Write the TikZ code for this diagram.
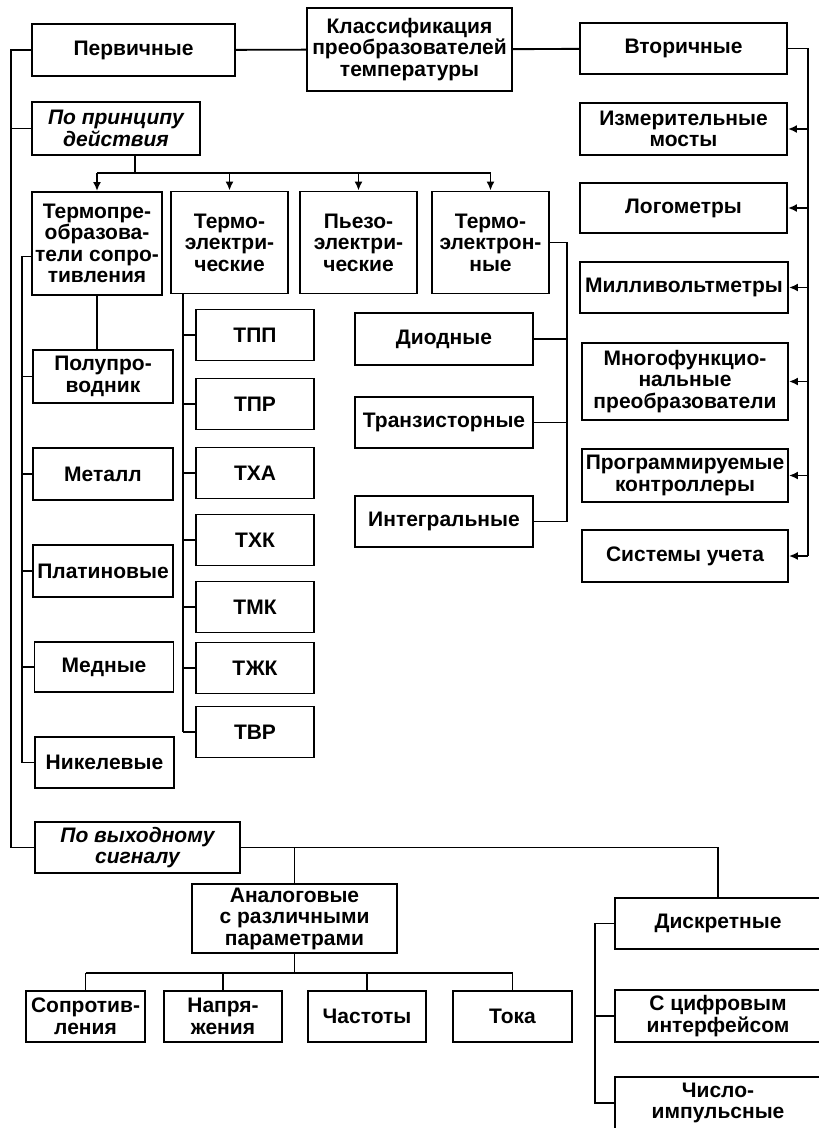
\documentclass[tikz,border=0pt]{standalone}
\usepackage{fontspec}
\setmainfont{Liberation Sans}
\usetikzlibrary{arrows.meta}
\begin{document}
\begin{tikzpicture}[>={Latex[length=9pt,width=8pt]}, x=1pt, y=-1pt, line width=1.9pt,
  box/.style={draw, align=center, inner sep=1pt, font=\fontsize{21}{21.5}\selectfont\bfseries},
  ibox/.style={box, font=\fontsize{21}{21.5}\selectfont\bfseries\itshape},
  wh/.style 2 args={minimum width=#1, minimum height=#2}]
\useasboundingbox (0,0) rectangle (819,1128);
\clip (0,0) rectangle (819,1128);
% top row
\node[box, wh={205}{83}] (class) at (409.5,49.5) {Классификация\\преобразователей\\температуры};
\node[box, wh={203}{52}] (perv) at (133.5,50) {Первичные};
\node[box, wh={207}{51}] (vtor) at (683.5,48.5) {Вторичные};
\draw (perv) -- (class) -- (vtor);
% primary
\node[ibox, wh={168}{53}] (princ) at (116,128.5) {По принципу\\действия};
\node[box, wh={130}{103}] (tsopr) at (97,243.5) {Термопре-\\образова-\\тели сопро-\\тивления};
\node[box, wh={117}{102}] (telec) at (229.5,242.5) {Термо-\\электри-\\ческие};
\node[box, wh={117}{102}] (piezo) at (358.5,242.5) {Пьезо-\\электри-\\ческие};
\node[box, wh={117}{102}] (telectron) at (490.5,242.5) {Термо-\\электрон-\\ные};
\coordinate (L) at (11,0);
\coordinate (pb) at (135,173);
\draw (perv.west) -- (perv.west -| L) |- (princ.west);
\draw (princ.south -| pb) -- (pb);
\draw (tsopr.north |- pb) -- (telectron.north |- pb);
\foreach \n in {tsopr,telec,piezo,telectron}
{
    \draw[->] (\n.north |- pb) -- (\n.north);
}
% resistance thermometers
\node[box, wh={140}{53}] (polu) at (103,376.5) {Полупро-\\водник};
\node[box, wh={140}{52}] (metal) at (103,474) {Металл};
\node[box, wh={140}{52}] (plat) at (103,571) {Платиновые};
\node[box, wh={139}{50}] (med) at (104,667) {Медные};
\node[box, wh={139}{51}] (nikel) at (104.5,762.5) {Никелевые};
\coordinate (L2) at (22,0);
\draw (tsopr.south) -- (tsopr.south |- polu.north);
\draw ([yshift=-13pt]tsopr.west) -- ([yshift=-13pt]tsopr.west -| L2) |- (nikel.west);
\foreach \n in {polu,metal,plat,med}
{
    \draw (\n.west) -- (\n.west -| L2);
}
% thermocouples
\coordinate (L3) at (183,0);
\foreach \lbl/\y [count=\i] in {ТПП/335,ТПР/404,ТХА/473,ТХК/540,ТМК/607,ТЖК/668,ТВР/732}
{
    \node[box, wh={118}{51}] (t\i) at (255,\y) {\lbl};
    \draw (t\i.west) -- (t\i.west -| L3);
}
\draw (telec.south -| L3) -- (L3 |- t7.west);
% thermionic
\node[box, wh={178}{52}] (diod) at (444,339) {Диодные};
\node[box, wh={178}{51}] (trans) at (444,422.5) {Транзисторные};
\node[box, wh={178}{51}] (integ) at (444,521.5) {Интегральные};
\coordinate (R2) at (567,0);
\draw (telectron.east) -- (telectron.east -| R2) |- (integ.east);
\draw (diod.east) -- (diod.east -| R2);
\draw (trans.east) -- (trans.east -| R2);
% secondary
\node[box, wh={207}{52}] (izm) at (683.5,129) {Измерительные\\мосты};
\node[box, wh={207}{50}] (logo) at (683.5,208) {Логометры};
\node[box, wh={208}{51}] (milli) at (684,287.5) {Милливольтметры};
\node[box, wh={206}{77}] (mnogo) at (685,381.5) {Многофункцио-\\нальные\\преобразователи};
\node[box, wh={206}{53}] (progr) at (685,475.5) {Программируемые\\контроллеры};
\node[box, wh={206}{52}] (sist) at (685,556) {Системы учета};
\coordinate (R1) at (808,0);
\draw (vtor.east) -- (vtor.east -| R1) -- (R1 |- sist.east);
\foreach \n in {izm,logo,milli,mnogo,progr,sist}
{
    \draw[->] (\n.east -| R1) -- (\n.east);
}
% output signal
\node[ibox, wh={205}{51}] (vyh) at (137.5,847.5) {По выходному\\сигналу};
\draw (perv.west -| L) |- (vyh.west);
\node[box, wh={205}{69}] (analog) at (294.5,918.5) {Аналоговые\\с различными\\параметрами};
\node[box, wh={206}{51}] (diskr) at (718,923.5) {Дискретные};
\node[box, wh={206}{52}] (cifr) at (718,1016) {С цифровым\\интерфейсом};
\node[box, wh={206}{52}] (chislo) at (718,1103) {Число-\\импульсные};
\draw (vyh.east) -| (diskr.north);
\draw (analog.north) -- (analog.north |- vyh.east);
\node[box, wh={119}{51}] (sopr) at (85.5,1016.5) {Сопротив-\\ления};
\node[box, wh={118}{51}] (napr) at (223,1016.5) {Напря-\\жения};
\node[box, wh={118}{51}] (chast) at (367,1016.5) {Частоты};
\node[box, wh={119}{51}] (toka) at (512.5,1016.5) {Тока};
\coordinate (ab) at (0,973);
\draw (analog.south) -- (analog.south |- ab);
\draw (sopr.north |- ab) -- (toka.north |- ab);
\foreach \n in {sopr,napr,chast,toka}
{
    \draw (\n.north |- ab) -- (\n.north);
}
\coordinate (R3) at (595,0);
\draw (diskr.west) -- (diskr.west -| R3) |- (chislo.west);
\draw (cifr.west) -- (cifr.west -| R3);
\end{tikzpicture}
\end{document}
